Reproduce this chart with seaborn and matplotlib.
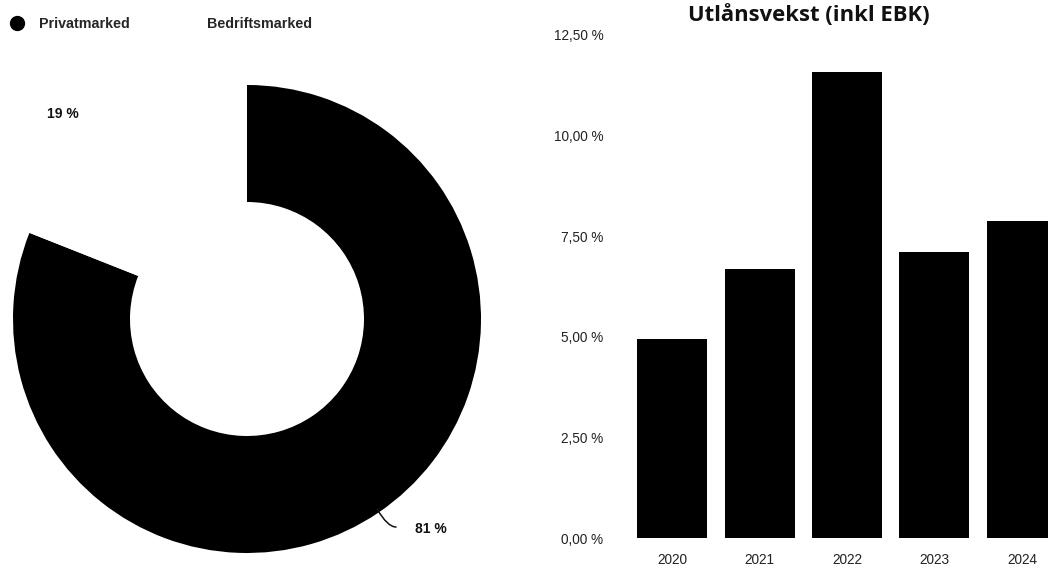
import matplotlib
matplotlib.use("Agg")
import matplotlib.pyplot as plt
from matplotlib.lines import Line2D
import seaborn as sns
import pandas as pd

# Segment split of the loan book (share in %)
segments = ["Privatmarked", "Bedriftsmarked"]
segment_share = [81, 19]
segment_colors = ["#000000", "#ffffff"]

# Annual loan growth including EBK (%)
years = ["2020", "2021", "2022", "2023", "2024"]
growth = [4.95, 6.68, 11.58, 7.11, 7.88]
y_ticks = [0.0, 2.5, 5.0, 7.5, 10.0, 12.5]

sns.set_theme(style="white")
plt.rcParams["font.family"] = ["Liberation Sans", "DejaVu Sans"]

W, H = 1048, 568
fig = plt.figure(figsize=(W / 100, H / 100), dpi=100)

# ---- Donut chart ----
cx, cy, r = 247, 319, 234
ax1 = fig.add_axes([(cx - r) / W, (H - cy - r) / H, 2 * r / W, 2 * r / H])
wedges, _ = ax1.pie(segment_share, colors=segment_colors, startangle=90,
                    counterclock=False, radius=1.0,
                    wedgeprops=dict(width=0.5, linewidth=0))
ax1.set_xlim(-1, 1)
ax1.set_ylim(-1, 1)
ax1.set_aspect("equal")
ax1.axis("off")

ax1.text(-0.788, 0.876, f"{segment_share[1]} %", ha="center", va="center",
         fontsize=10, fontweight="bold", color="#111111")
ax1.text(0.785, -0.897, f"{segment_share[0]} %", ha="center", va="center",
         fontsize=10, fontweight="bold", color="#111111")
# leader line from the ring edge towards the 81 % label
ax1.annotate("", xy=(0.556, -0.812), xytext=(0.637, -0.889),
             annotation_clip=False,
             arrowprops=dict(arrowstyle="-", color="#111111", lw=1.1,
                             shrinkA=0, shrinkB=0,
                             connectionstyle="angle3,angleA=0,angleB=-60"))

handles = [Line2D([0], [0], marker="o", linestyle="none", markersize=10,
                  markerfacecolor=c, markeredgecolor=c) for c in segment_colors]
fig.legend(handles, segments, loc="center left",
           bbox_to_anchor=(4.3 / W, 1 - 24 / H),
           ncol=2, frameon=False, handlelength=1.0, handletextpad=1.03,
           columnspacing=3.4, borderaxespad=0.0, borderpad=0.4,
           prop=dict(weight="bold", size=10.3))

# ---- Bar chart ----
left, right = 628.5, 1048
ax2 = fig.add_axes([left / W, 30 / H, (right - left) / W, 503 / H])
df = pd.DataFrame({"year": years, "growth": growth})
sns.barplot(data=df, x="year", y="growth", color="black", saturation=1,
            width=0.8, linewidth=0, ax=ax2)
ax2.set_xlim(-0.5, 4.5 - (1065.5 - right) / 87)
ax2.set_ylim(0, 12.5)
ax2.set_yticks(y_ticks)
ax2.set_yticklabels([f"{v:.2f} %".replace(".", ",") for v in y_ticks])
ax2.set_xlabel("")
ax2.set_ylabel("")
for s in ax2.spines.values():
    s.set_visible(False)
ax2.tick_params(axis="y", length=0, pad=18, labelsize=9.8, labelcolor="#222222")
ax2.tick_params(axis="x", length=0, pad=10.5, labelsize=9.8, labelcolor="#222222")
ax2.grid(False)

fig.text(808.5 / W, 1 - 15 / H, "Utlånsvekst (inkl EBK)", ha="center", va="center",
         fontsize=15.8, fontweight="bold", family=["Open Sans", "DejaVu Sans"],
         color="#111111")

fig.savefig("out.png", dpi=100)
